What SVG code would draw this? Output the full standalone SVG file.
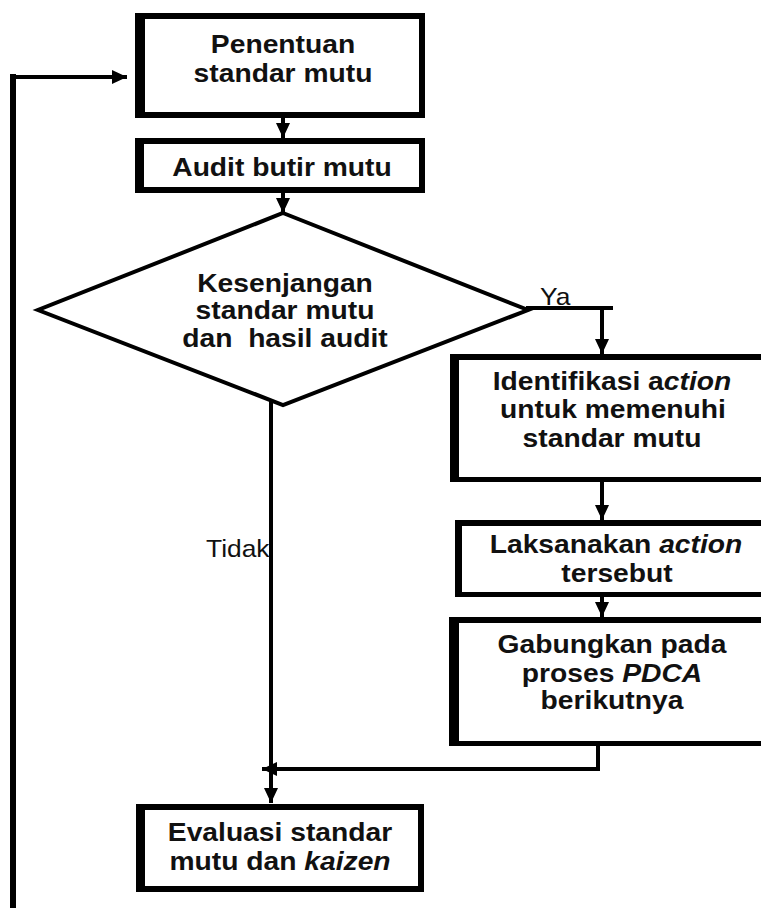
<svg xmlns="http://www.w3.org/2000/svg" width="761" height="908" viewBox="0 0 761 908">
  <style>
    .frame { fill: #000; }
    .face { fill: #fff; }
    .line { stroke: #000; stroke-width: 4; fill: none; }
    .thick { stroke: #000; stroke-width: 6; fill: none; }
    .lbl { font-family: "Liberation Sans", Arial, sans-serif; font-weight: bold; font-size: 25px; fill: #111; text-anchor: middle; }
    .note { font-family: "Liberation Sans", Arial, sans-serif; font-size: 24px; fill: #111; }
    .it { font-style: italic; }
  </style>
  <defs>
    <marker id="arrow" markerUnits="userSpaceOnUse" markerWidth="16" markerHeight="14" refX="15" refY="7" orient="auto">
      <path d="M0,0 L15,7 L0,14 Z" fill="#000"/>
    </marker>
  </defs>

  <rect width="761" height="908" fill="#fff"/>

  <!-- connectors -->
  <g id="connectors">
    <path class="thick" d="M13,908 V74"/>
    <path class="line" d="M10,77 H127" marker-end="url(#arrow)"/>
    <path class="line" d="M283,118 V138" marker-end="url(#arrow)"/>
    <path class="line" d="M283,193 V213" marker-end="url(#arrow)"/>
    <path class="line" d="M526,308 H613"/>
    <path class="line" d="M602,308 V354" marker-end="url(#arrow)"/>
    <path class="line" d="M602,482 V520" marker-end="url(#arrow)"/>
    <path class="line" d="M602,597 V617" marker-end="url(#arrow)"/>
    <path class="line" d="M598,746 V769 H262" marker-end="url(#arrow)"/>
    <path class="line" d="M271,398 V803" marker-end="url(#arrow)"/>
  </g>

  <!-- Penentuan standar mutu -->
  <g id="penentuan">
    <rect class="frame" x="135" y="13" width="290" height="105"/>
    <rect class="face" x="145" y="19" width="274" height="93"/>
    <text class="lbl" transform="translate(283 53) scale(1.13 1)">Penentuan</text>
    <text class="lbl" transform="translate(283 82) scale(1.13 1)">standar mutu</text>
  </g>

  <!-- Audit butir mutu -->
  <g id="audit">
    <rect class="frame" x="135" y="138" width="290" height="55"/>
    <rect class="face" x="144" y="144" width="275" height="43"/>
    <text class="lbl" transform="translate(282 176) scale(1.13 1)">Audit butir mutu</text>
  </g>

  <!-- decision -->
  <g id="kesenjangan">
    <polygon points="283,213 528,310 283,405 38,310" fill="#fff" stroke="#000" stroke-width="4" stroke-linejoin="miter"/>
    <text class="lbl" transform="translate(285 292) scale(1.13 1)">Kesenjangan</text>
    <text class="lbl" transform="translate(285 319) scale(1.13 1)">standar mutu</text>
    <text class="lbl" transform="translate(285 347) scale(1.13 1)" xml:space="preserve">dan  hasil audit</text>
  </g>

  <text id="label-ya" class="note" transform="translate(540 305) scale(1.1 1)">Ya</text>
  <text id="label-tidak" class="note" transform="translate(206 557) scale(1.1 1)">Tidak</text>

  <!-- Identifikasi action -->
  <g id="identifikasi">
    <rect class="frame" x="450" y="354" width="330" height="128"/>
    <rect class="face" x="459" y="360" width="321" height="117"/>
    <text class="lbl" transform="translate(612 390) scale(1.13 1)">Identifikasi a<tspan class="it">ction</tspan></text>
    <text class="lbl" transform="translate(613 418) scale(1.13 1)">untuk memenuhi</text>
    <text class="lbl" transform="translate(612 447) scale(1.13 1)">standar mutu</text>
  </g>

  <!-- Laksanakan action -->
  <g id="laksanakan">
    <rect class="frame" x="455" y="520" width="330" height="77"/>
    <rect class="face" x="462" y="526" width="323" height="66"/>
    <text class="lbl" transform="translate(616 553) scale(1.13 1)">Laksanakan <tspan class="it">action</tspan></text>
    <text class="lbl" transform="translate(617 582) scale(1.13 1)">tersebut</text>
  </g>

  <!-- Gabungkan pada proses PDCA -->
  <g id="gabungkan">
    <rect class="frame" x="449" y="617" width="330" height="129"/>
    <rect class="face" x="459" y="623" width="321" height="118"/>
    <text class="lbl" transform="translate(612 653) scale(1.13 1)">Gabungkan pada</text>
    <text class="lbl" transform="translate(612 682) scale(1.13 1)">proses <tspan class="it">PDCA</tspan></text>
    <text class="lbl" transform="translate(612 709) scale(1.13 1)">berikutnya</text>
  </g>

  <!-- Evaluasi standar mutu dan kaizen -->
  <g id="evaluasi">
    <rect class="frame" x="136" y="804" width="288" height="88"/>
    <rect class="face" x="145" y="810" width="273" height="76"/>
    <text class="lbl" transform="translate(280 841) scale(1.13 1)">Evaluasi standar</text>
    <text class="lbl" transform="translate(280 870) scale(1.13 1)">mutu dan <tspan class="it">kaizen</tspan></text>
  </g>
</svg>
